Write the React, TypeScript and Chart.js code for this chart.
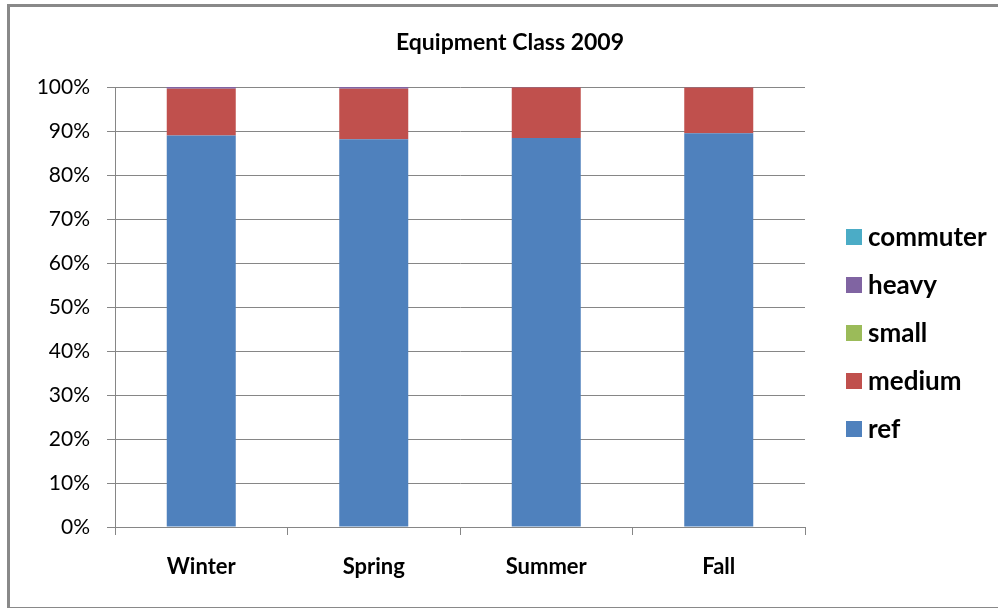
import React, { useEffect, useRef } from "react";
import { Chart, registerables } from "chart.js";

Chart.register(...registerables);

const categories = ["Winter", "Spring", "Summer", "Fall"];
const refValues = [89.0, 88.1, 88.4, 89.5];
const mediumValues = [10.6, 11.5, 11.5, 10.4];
const smallValues = [0.0, 0.0, 0.0, 0.0];
const heavyValues = [0.4, 0.4, 0.1, 0.05];
const commuterValues = [0.0, 0.0, 0.0, 0.05];
const yTicks = [0, 10, 20, 30, 40, 50, 60, 70, 80, 90, 100];

const FONT = "Lato, 'Open Sans', sans-serif";
const GRID = "#868686";

const sideLegend = {
  id: "sideLegend",
  afterDraw(chart: any) {
    const { ctx, chartArea } = chart;
    const items = chart.data.datasets.map((d: any) => ({ label: d.label, color: d.backgroundColor })).reverse();
    const spacing = 48;
    const centerY = (chartArea.top + chartArea.bottom) / 2 + 26;
    const startY = centerY - ((items.length - 1) * spacing) / 2;
    const x = chartArea.right + 41;
    ctx.save();
    ctx.font = `bold 26px ${FONT}`;
    ctx.textBaseline = "middle";
    ctx.textAlign = "left";
    items.forEach((it: any, i: number) => {
      const y = startY + i * spacing;
      ctx.fillStyle = it.color;
      ctx.fillRect(x, y - 8, 16, 16);
      ctx.fillStyle = "#000";
      ctx.fillText(it.label, x + 22, y + 1);
    });
    ctx.restore();
  },
};

export default function App() {
  const ref = useRef<HTMLCanvasElement | null>(null);
  useEffect(() => {
    if (!ref.current) return;
    const chart = new Chart(ref.current, {
      type: "bar",
      data: {
        labels: categories,
        datasets: [
          { label: "ref", data: refValues, backgroundColor: "#4F81BD" },
          { label: "medium", data: mediumValues, backgroundColor: "#C0504D" },
          { label: "small", data: smallValues, backgroundColor: "#9BBB59" },
          { label: "heavy", data: heavyValues, backgroundColor: "#8064A2" },
          { label: "commuter", data: commuterValues, backgroundColor: "#4BACC6" },
        ],
      },
      options: {
        animation: false,
        responsive: false,
        maintainAspectRatio: false,
        layout: { padding: { left: 22, right: 0, top: 0, bottom: 29 } },
        datasets: { bar: { barPercentage: 0.4, categoryPercentage: 1 } },
        plugins: {
          legend: { display: false },
          tooltip: { enabled: false },
          title: {
            display: true,
            text: "Equipment Class 2009",
            color: "#000",
            font: { family: FONT, size: 23, weight: "bold", lineHeight: 1.2 },
            padding: { top: 28.5, bottom: 30.9 },
          },
        },
        scales: {
          x: {
            stacked: true,
            grid: { display: true, drawOnChartArea: false, drawTicks: true, tickLength: 8, color: GRID, offset: true },
            border: { display: true, color: GRID, width: 1 },
            ticks: { color: "#000", padding: 19, maxRotation: 0, font: { family: FONT, size: 22, weight: "bold" } },
            afterFit(s: any) { s.height = 52; },
          },
          y: {
            stacked: true,
            min: 0,
            max: 100,
            afterBuildTicks(s: any) { s.ticks = yTicks.map((v) => ({ value: v })); },
            grid: { color: GRID, tickLength: 8, drawTicks: true },
            border: { display: true, color: GRID, width: 1 },
            ticks: { color: "#000", padding: 17, font: { family: FONT, size: 21 }, callback: (v: any) => v + "%" },
            afterFit(s: any) { s.width = 93; },
          },
          legendSpace: {
            type: "linear",
            position: "right",
            display: true,
            grid: { display: false, drawTicks: false },
            border: { display: false },
            ticks: { display: false },
            afterFit(s: any) { s.width = 193; },
          },
        },
      },
      plugins: [sideLegend],
    });
    return () => chart.destroy();
  }, []);
  return (
    <div style={{ position: "fixed", left: 0, top: 0, width: 998, height: 608, background: "#fff", overflow: "hidden" }}>
      <canvas ref={ref} width={998} height={608} style={{ position: "absolute", left: 0, top: 0 }} />
      <div style={{ position: "absolute", left: 7, top: 4, width: 1000, height: 600, borderTop: "3px solid #898989", borderLeft: "3px solid #898989", borderBottom: "3px solid #898989", pointerEvents: "none" }} />
    </div>
  );
}
